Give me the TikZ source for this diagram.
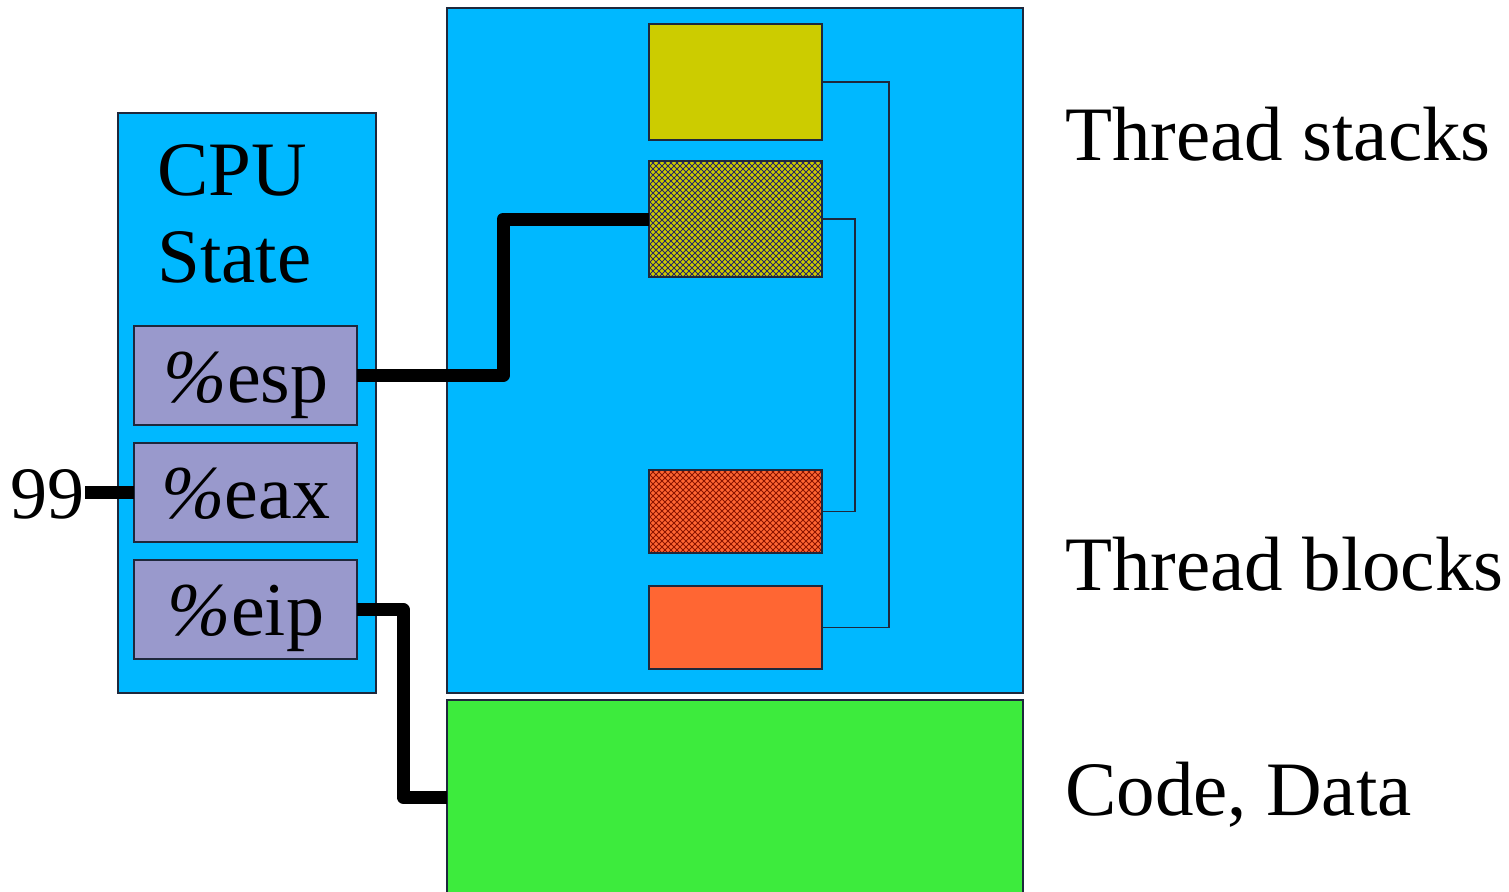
\documentclass[tikz,border=0pt]{standalone}
\usepackage{fontspec}
\setmainfont{Liberation Serif}
\definecolor{cpublue}{RGB}{0,184,255}
\definecolor{reg}{RGB}{153,153,204}
\definecolor{codegreen}{RGB}{61,235,61}
\definecolor{stackyellow}{RGB}{204,204,0}
\definecolor{blockorange}{RGB}{255,102,51}
\definecolor{navyhatch}{RGB}{40,40,100}
\definecolor{redhatch}{RGB}{140,20,0}
\definecolor{edge}{RGB}{30,40,60}
\newcommand{\crosshatchbox}[2]{%
  \begin{scope}
    \clip (#1.north west) rectangle (#1.south east);
    \foreach \k in {0,6,...,330} {
      \draw[#2,line width=0.8pt] ($(#1.north west)+(\k-130,0)$) -- ++(130,130);
      \draw[#2,line width=0.8pt] ($(#1.north west)+(\k,0)$) -- ++(-130,130);
    }
  \end{scope}
  \draw[edge,line width=1.2pt] (#1.north west) rectangle (#1.south east);}
\usetikzlibrary{calc}
\begin{document}
\begin{tikzpicture}[x=1pt,y=-1pt,
  box/.style={draw=edge,line width=1.2pt,anchor=north west,inner sep=0pt,outer sep=0pt},
  regbox/.style={box,fill=reg,minimum width=223pt,minimum height=99pt},
  regtxt/.style={font=\fontsize{76}{76}\selectfont,inner sep=0pt,anchor=base},
  big/.style={font=\fontsize{77}{77}\selectfont,inner sep=0pt,anchor=base west},
  thickline/.style={line width=13pt,line join=round},
  thinline/.style={draw=edge,line width=1.2pt}]
\useasboundingbox (0,0) rectangle (1509,891);
% memory regions
\node[box,fill=cpublue,minimum width=576pt,minimum height=685pt] (mem) at (447,8) {};
\node[box,fill=codegreen,minimum width=576pt,minimum height=200pt] (code) at (447,700) {};
% thread stacks and blocks
\node[box,fill=stackyellow,minimum width=173pt,minimum height=116pt] (ys) at (649,24) {};
\node[box,fill=stackyellow,minimum width=173pt,minimum height=116pt] (hy) at (649,161) {};
\crosshatchbox{hy}{navyhatch}
\node[box,fill=blockorange,minimum width=173pt,minimum height=83pt] (hr) at (649,470) {};
\crosshatchbox{hr}{redhatch}
\node[box,fill=blockorange,minimum width=173pt,minimum height=83pt] (ob) at (649,586) {};
% thin links
\coordinate (xa) at (889,0);
\coordinate (xb) at (855,0);
\draw[thinline] (ys.east) -- (ys.east -| xa) |- (ob.east);
\draw[thinline] (hy.east) -- (hy.east -| xb) |- (hr.east);
% CPU state
\node[box,fill=cpublue,minimum width=258pt,minimum height=580pt] (cpu) at (118,113) {};
\node[big] (cputxt) at (157,195) {CPU};
\node[big] (statetxt) at (157,282) {State};
\node[regbox] (esp) at (134,326) {};
\node[regbox] (eax) at (134,443) {};
\node[regbox] (eip) at (134,560) {};
\node[regtxt] (esptxt) at (246,402) {\textit{\%}esp};
\node[regtxt] (eaxtxt) at (246,518) {\textit{\%}eax};
\node[regtxt] (eiptxt) at (246,635) {\textit{\%}eip};
\node[font=\fontsize{74}{74}\selectfont,inner sep=0pt,anchor=base east] (n99) at (85,518) {99};
% thick links
\coordinate (xe) at (503,0);
\coordinate (xi) at (403,0);
\draw[thickline] (esp.east) -- (esp.east -| xe) |- (hy.west);
\draw[thickline] (eip.east) -- (eip.east -| xi) |- (code.west |- 0,797);
\draw[thickline] (eax.west) -- (eax.west -| n99.east);
% labels
\node[big] (lstacks) at (1065,160) {Thread stacks};
\node[big] (lblocks) at (1065,590) {Thread blocks};
\node[big] (lcode) at (1065,815) {Code, Data};
\end{tikzpicture}
\end{document}
